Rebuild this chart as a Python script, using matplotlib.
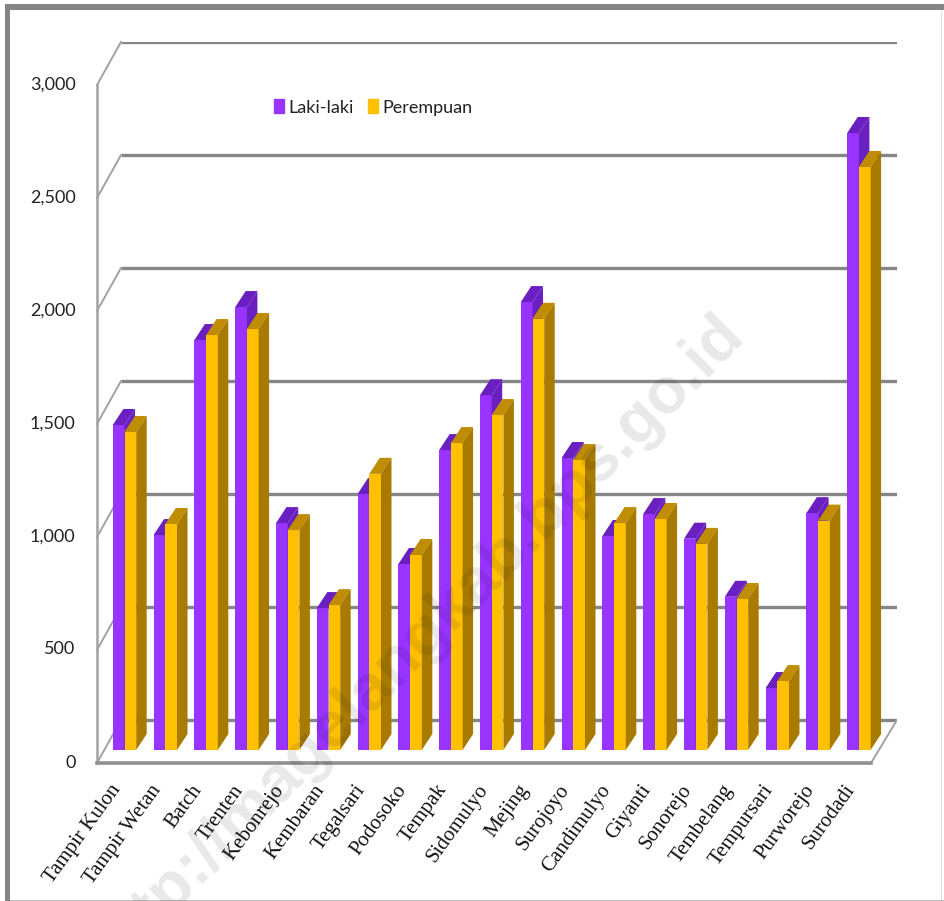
import matplotlib
matplotlib.use("Agg")
import matplotlib.pyplot as plt
from matplotlib.patches import Patch, Rectangle
from matplotlib.transforms import ScaledTranslation

villages = ["Tampir Kulon", "Tampir Wetan", "Batch", "Trenten", "Kebonrejo", "Kembaran",
            "Tegalsari", "Podosoko", "Tempak", "Sidomulyo", "Mejing", "Surojoyo",
            "Candimulyo", "Giyanti", "Sonorejo", "Tembelang", "Tempursari", "Purworejo", "Surodadi"]
laki = [1438, 951, 1814, 1960, 1004, 628, 1133, 823, 1327, 1570, 1982, 1292,
        947, 1044, 935, 678, 274, 1048, 2730]
perempuan = [1407, 1000, 1836, 1863, 973, 641, 1222, 863, 1358, 1482, 1908, 1283,
             1004, 1022, 912, 668, 305, 1015, 2580]
y_ticks = [0, 500, 1000, 1500, 2000, 2500, 3000]
y_labels = ["0", "500", "1,000", "1,500", "2,000", "2,500", "3,000"]

W, H = 944, 901
PX_X, PX_Y = 40.8, 0.226
fig = plt.figure(figsize=(W / 100, H / 100), dpi=100)
L, R, B, T = 97, 897, 763, 42
ax = fig.add_axes([L / W, 1 - B / H, (R - L) / W, (B - T) / H])
ax.set_xlim((L - 124.5) / PX_X, (R - 124.5) / PX_X)
ax.set_ylim(0, (B - T) / PX_Y)
ax.patch.set_alpha(0)

grey = "#868686"
thin = "#a2a2a2"
wall_dx, wall_dy = 24 / PX_X, 43 / PX_Y
x0 = ax.get_xlim()[0]
x_front_end = (871 - 124.5) / PX_X
for t in y_ticks:
    ax.plot([x0 + wall_dx, ax.get_xlim()[1]], [t + wall_dy] * 2, color=grey, lw=2.4, zorder=1,
            solid_capstyle="butt")
    ax.plot([x0, x0 + wall_dx], [t, t + wall_dy], color=thin, lw=1.4, zorder=1, clip_on=False)
ax.plot([x_front_end, x_front_end + wall_dx + 2 / PX_X], [0, wall_dy], color=thin, lw=1.4, zorder=1)

for s in ("top", "right"):
    ax.spines[s].set_visible(False)
ax.spines["left"].set_color(thin)
ax.spines["left"].set_linewidth(1.8)
ax.spines["bottom"].set_color("#909090")
ax.spines["bottom"].set_linewidth(2.6)
ax.spines["left"].set_bounds(0, 3000)
ax.spines["bottom"].set_bounds(x0, x_front_end)

base = 13 / PX_Y
bw = 11.7 / PX_X
dx, dy = 10.5 / PX_X, 16 / PX_Y


def bar3d(x, v, front, top, side, z):
    ax.bar(x, v, width=bw, bottom=base, align="edge", color=front, linewidth=0, zorder=z)
    h = base + v
    ax.fill([x, x + dx, x + bw + dx, x + bw], [h, h + dy, h + dy, h], color=top, lw=0, zorder=z)
    ax.fill([x + bw, x + bw + dx, x + bw + dx, x + bw],
            [base, base + dy, h + dy, h], color=side, lw=0, zorder=z)


for i, (a, b) in enumerate(zip(laki, perempuan)):
    z = 3 + i
    bar3d(i - bw, a, "#9933ff", "#6a1fc0", "#6a1fc0", z)
    bar3d(i, b, "#ffc000", "#c08c00", "#a87a00", z + 0.5)

ax.set_yticks(y_ticks, y_labels, family="Lato", fontsize=13, color="#222222")
ax.tick_params(axis="y", length=0, pad=15.5)
up = ScaledTranslation(0, 2 / 100, fig.dpi_scale_trans)
for lab in ax.get_yticklabels():
    lab.set_transform(lab.get_transform() + up)

ax.set_xticks(range(len(villages)), villages, family="Liberation Serif", fontsize=15,
              rotation=54, ha="right", rotation_mode="anchor", color="#111111")
ax.tick_params(axis="x", length=0, pad=13)
left = ScaledTranslation(-15 / 100, 0, fig.dpi_scale_trans)
for lab in ax.get_xticklabels():
    lab.set_transform(lab.get_transform() + left)

handles = [Patch(color="#9933ff", label="Laki-laki"), Patch(color="#ffc000", label="Perempuan")]
ax.legend(handles=handles, ncol=2, frameon=False, loc="center left", borderaxespad=0, borderpad=0,
          bbox_to_anchor=((274 - L) / (R - L), (B - 107.5) / (B - T)),
          prop={"family": "Lato", "size": 13}, handlelength=0.55, handleheight=0.8,
          handletextpad=0.25, columnspacing=0.78, labelcolor="#222222")

fig.text(734 / W, 1 - 324 / H, "http://magelangkab.bps.go.id", family="Liberation Sans", weight="bold",
         fontsize=46.5, color="#000000", alpha=0.09, rotation=45, ha="right", va="center",
         rotation_mode="anchor", zorder=50)

# picture frame: heavy on the top and left, hairline on the right and bottom
for (px, py, pw, ph, col) in [(5, 0, 5, H - 4, "#858585"), (5, H - 10, W - 5, 6, "#858585"),
                              (941, 0, 1, H - 10, "#e2e2e2"), (10, 0, W - 10, 1.5, "#bdbdbd")]:
    fig.add_artist(Rectangle((px / W, py / H), pw / W, ph / H, transform=fig.transFigure,
                             facecolor=col, edgecolor="none"))
fig.savefig("out.png", dpi=100)
